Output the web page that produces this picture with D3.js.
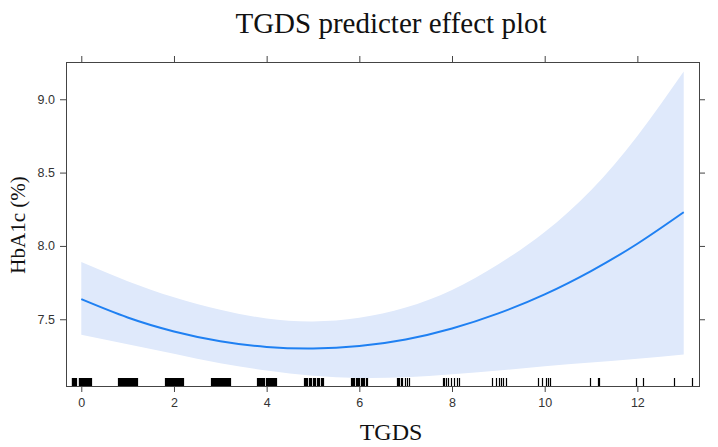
<!DOCTYPE html>
<html>
<head>
<meta charset="utf-8">
<script src="https://cdn.jsdelivr.net/npm/d3@7"></script>
<style>
  html, body { margin: 0; padding: 0; background: #fff; }
  svg { display: block; }
</style>
</head>
<body>
<svg id="chart" width="718" height="447"></svg>
<script>
// ---- data ----
const tgds = [0, 1, 2, 3, 4, 5, 6, 7, 8, 9, 10, 11, 12, 13];
const fitHbA1c = [7.637, 7.512, 7.417, 7.350, 7.311, 7.300, 7.317, 7.362, 7.437, 7.540, 7.670, 7.829, 8.015, 8.230];
const upperHbA1c = [7.89, 7.76, 7.65, 7.565, 7.505, 7.485, 7.51, 7.58, 7.70, 7.875, 8.095, 8.38, 8.75, 9.19];
const lowerHbA1c = [7.395, 7.33, 7.265, 7.20, 7.15, 7.115, 7.10, 7.105, 7.125, 7.15, 7.18, 7.205, 7.23, 7.26];
const xTicks = [0, 2, 4, 6, 8, 10, 12];
const yTicks = [7.5, 8.0, 8.5, 9.0];
const rugTGDS = [
  -0.20, -0.19, -0.17, -0.15, -0.13, -0.12, -0.06, -0.05, -0.03, -0.02, 0.00, 0.01, 0.03, 0.05, 0.06, 0.09, 0.10, 0.11, 0.13, 0.15, 0.17, 0.19, 0.21,
  0.80, 0.82, 0.84, 0.86, 0.88, 0.90, 0.92, 0.94, 0.96, 0.98, 1.00, 1.02, 1.04, 1.06, 1.08, 1.10, 1.12, 1.14, 1.16, 1.18, 1.20,
  1.80, 1.82, 1.84, 1.86, 1.88, 1.90, 1.92, 1.94, 1.96, 1.98, 2.00, 2.02, 2.04, 2.06, 2.08, 2.10, 2.12, 2.14, 2.16, 2.18, 2.20,
  2.80, 2.82, 2.84, 2.86, 2.88, 2.90, 2.92, 2.94, 2.96, 2.98, 3.00, 3.02, 3.04, 3.06, 3.08, 3.10, 3.12, 3.14, 3.16, 3.18, 3.20,
  3.79, 3.81, 3.83, 3.85, 3.88, 3.91, 3.93, 3.95, 3.98, 4.00, 4.02, 4.05, 4.07, 4.09, 4.12, 4.14, 4.16, 4.18, 4.20,
  4.80, 4.82, 4.84, 4.87, 4.91, 4.93, 4.96, 4.99, 5.03, 5.05, 5.08, 5.11, 5.14, 5.17, 5.19, 5.21,
  5.82, 5.84, 5.86, 5.89, 5.92, 5.95, 5.97, 6.00, 6.03, 6.05, 6.08, 6.11, 6.14, 6.17,
  6.81, 6.83, 6.86, 6.89, 6.92, 6.99, 7.02, 7.08,
  7.81, 7.83, 7.87, 7.92, 7.97, 8.05, 8.10, 8.15,
  8.87, 8.94, 9.02, 9.06, 9.11, 9.16,
  9.86, 9.95, 10.02, 10.07, 10.12,
  10.97, 11.16, 11.17,
  11.98, 12.13,
  12.80, 13.17
];

// ---- layout ----
const panel = { left: 66, right: 699, top: 62, bottom: 386 };
const svg = d3.select("#chart");

const x = d3.scaleLinear().domain([-0.33, 13.33]).range([panel.left, panel.right]);
const y = d3.scaleLinear().domain([7.045, 9.254]).range([panel.bottom, panel.top]);

const pts = tgds.map((t, i) => ({ t, fit: fitHbA1c[i], lo: lowerHbA1c[i], hi: upperHbA1c[i] }));

// confidence band
svg.append("path")
  .datum(pts)
  .attr("fill", "#dfe9fb")
  .attr("d", d3.area()
    .x(d => x(d.t))
    .y0(d => y(d.lo))
    .y1(d => y(d.hi))
    .curve(d3.curveNatural));

// fitted line
svg.append("path")
  .datum(pts)
  .attr("fill", "none")
  .attr("stroke", "#1f80f2")
  .attr("stroke-width", 2)
  .attr("d", d3.line()
    .x(d => x(d.t))
    .y(d => y(d.fit))
    .curve(d3.curveNatural));

// rug
svg.append("g")
  .selectAll("line")
  .data(rugTGDS)
  .join("line")
  .attr("x1", d => Math.round(x(d)) + 0.5)
  .attr("x2", d => Math.round(x(d)) + 0.5)
  .attr("y1", panel.bottom - 8)
  .attr("y2", panel.bottom)
  .attr("stroke", "#000")
  .attr("stroke-width", 1.2);

// axes
const tickFont = "Liberation Sans, Arial, sans-serif";
const axisColor = "#444";

function styleAxis(g) {
  g.select(".domain").remove();
  g.selectAll(".tick line").attr("stroke", axisColor);
  g.selectAll(".tick text")
    .attr("fill", "#333")
    .style("font-family", tickFont)
    .style("font-size", "12.5px");
}

svg.append("g")
  .attr("transform", `translate(0,${panel.bottom})`)
  .call(d3.axisBottom(x).tickValues(xTicks).tickFormat(d3.format("d")).tickSize(6).tickPadding(6))
  .call(styleAxis);

svg.append("g")
  .attr("transform", `translate(0,${panel.top})`)
  .call(d3.axisTop(x).tickValues(xTicks).tickFormat("").tickSize(6))
  .call(styleAxis);

svg.append("g")
  .attr("transform", `translate(${panel.left},0)`)
  .call(d3.axisLeft(y).tickValues(yTicks).tickFormat(d3.format(".1f")).tickSize(6).tickPadding(5))
  .call(styleAxis);

svg.append("g")
  .attr("transform", `translate(${panel.right},0)`)
  .call(d3.axisRight(y).tickValues(yTicks).tickFormat("").tickSize(6))
  .call(styleAxis);

// panel box
svg.append("rect")
  .attr("x", panel.left + 0.5)
  .attr("y", panel.top + 0.5)
  .attr("width", panel.right - panel.left)
  .attr("height", panel.bottom - panel.top)
  .attr("fill", "none")
  .attr("stroke", axisColor)
  .attr("stroke-width", 1);

// titles
const serif = "Liberation Serif, Times New Roman, serif";
svg.append("text")
  .attr("x", 391)
  .attr("y", 33)
  .attr("text-anchor", "middle")
  .style("font-family", serif)
  .style("font-size", "29px")
  .attr("fill", "#111")
  .text("TGDS predicter effect plot");

svg.append("text")
  .attr("x", 391)
  .attr("y", 440)
  .attr("text-anchor", "middle")
  .style("font-family", serif)
  .style("font-size", "24px")
  .attr("fill", "#111")
  .text("TGDS");

svg.append("text")
  .attr("transform", `translate(25,225) rotate(-90)`)
  .attr("text-anchor", "middle")
  .style("font-family", serif)
  .style("font-size", "21px")
  .attr("fill", "#111")
  .text("HbA1c (%)");
</script>
</body>
</html>
